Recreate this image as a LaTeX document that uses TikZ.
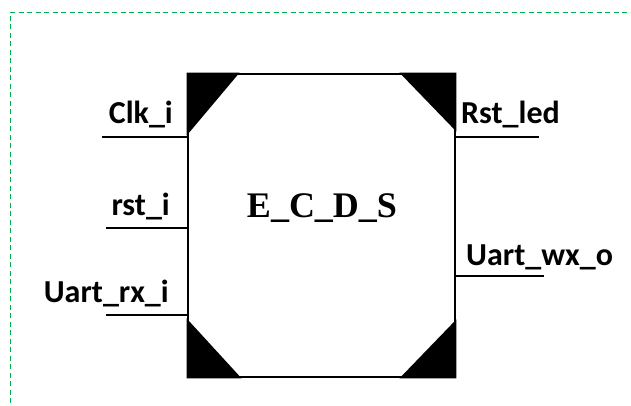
\documentclass[tikz,border=0pt]{standalone}
\usepackage{fontspec}
\setmainfont{Liberation Serif}
\newfontfamily\pinfont{Carlito}
\begin{document}
\begin{tikzpicture}[x=1pt,y=-1pt,
  pinline/.style={line width=2.8pt},
  pinlabel/.style={font=\pinfont\bfseries\fontsize{32}{32}\selectfont, inner sep=0pt},
  blockbox/.style={draw, line width=2.8pt, minimum width=267pt, minimum height=303pt, inner sep=0pt, fill=white},
  corner/.style={fill=black},
  frame/.style={draw={rgb,255:red,0;green,176;blue,80}, line width=0.8pt, dash pattern=on 5pt off 3.5pt}]
  \useasboundingbox (0,0) rectangle (631,405);
  % dashed outer frame
  \draw[frame] (10,420) -- (10,12) -- (640,12);
  % main block
  \node[blockbox] (ecds) at (321.5,225.5) {};
  \node[font=\bfseries\fontsize{36}{36}\selectfont, inner sep=0pt, anchor=base] (title) at (322,217) {E\_C\_D\_S};
  % corner triangles
  \fill[corner] (ecds.north west) -- ++(53,0) -- ++(-53,63) -- cycle;
  \fill[corner] (ecds.north east) -- ++(-57,0) -- ++(57,59) -- cycle;
  \fill[corner] (ecds.south west) -- ++(55,0) -- ++(-55,-60) -- cycle;
  \fill[corner] (ecds.south east) -- ++(-57,0) -- ++(57,-59) -- cycle;
  % pin ends
  \coordinate (clk) at (102,137);
  \coordinate (rst) at (106,228);
  \coordinate (rx) at (106,315);
  \coordinate (led) at (539,137);
  \coordinate (tx) at (544,276);
  \draw[pinline] (clk) -- (clk -| ecds.west);
  \draw[pinline] (rst) -- (rst -| ecds.west);
  \draw[pinline] (rx) -- (rx -| ecds.west);
  \draw[pinline] (led) -- (led -| ecds.east);
  \draw[pinline] (tx) -- (tx -| ecds.east);
  % pin labels
  \node[pinlabel, anchor=base east] (clklbl) at (173,123) {Clk\_i};
  \node[pinlabel, anchor=base east] (rstlbl) at (170,215) {rst\_i};
  \node[pinlabel, anchor=base east] (rxlbl) at (169,302) {Uart\_rx\_i};
  \node[pinlabel, anchor=base west] (ledlbl) at (461,123) {Rst\_led};
  \node[pinlabel, anchor=base west] (txlbl) at (466,265) {Uart\_wx\_o};
\end{tikzpicture}
\end{document}
